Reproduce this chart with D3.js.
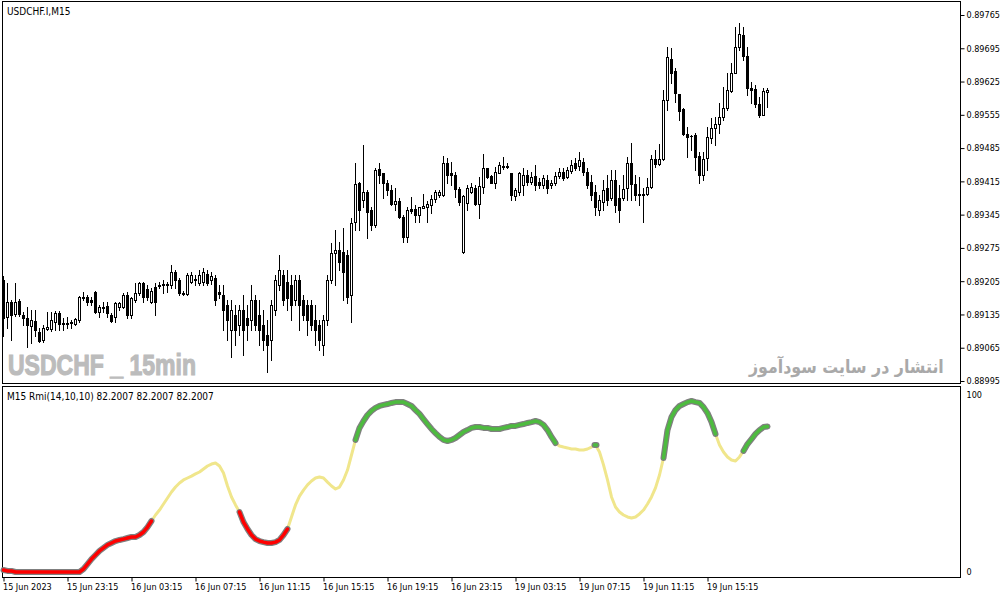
<!DOCTYPE html>
<html><head><meta charset="utf-8">
<script src="https://cdn.jsdelivr.net/npm/d3@7"></script>
<style>html,body{margin:0;padding:0;background:#fff;overflow:hidden}svg{display:block}</style>
</head><body><svg id="c" width="1006" height="598"></svg>
<script>
const symbolTitle = "USDCHF.I,M15";
const indicatorTitle = "M15 Rmi(14,10,10) 82.2007 82.2007 82.2007";
const watermarkLeft = "USDCHF _ 15min";
const watermarkRight = "انتشار در سایت سودآموز";

const priceTicks = [0.89765,0.89695,0.89625,0.89555,0.89485,0.89415,0.89345,0.89275,0.89205,0.89135,0.89065,0.88995];
const rmiTicks = [100, 0];
const timeTickBars = [0,16,32,48,64,80,96,112,128,144,160,176];
const timeTickLabels = ["15 Jun 2023","15 Jun 23:15","16 Jun 03:15","16 Jun 07:15","16 Jun 11:15","16 Jun 15:15","16 Jun 19:15","16 Jun 23:15","19 Jun 03:15","19 Jun 07:15","19 Jun 11:15","19 Jun 15:15"];

const open = [
0.89208,0.89130,0.89162,0.89136,0.89164,0.89134,0.89128,0.89111,0.89122,0.89098,
0.89082,0.89105,0.89105,0.89120,0.89138,0.89117,0.89115,0.89117,0.89115,0.89124,
0.89170,0.89172,0.89166,0.89183,0.89141,0.89151,0.89153,0.89134,0.89130,0.89151,
0.89151,0.89176,0.89134,0.89166,0.89181,0.89202,0.89189,0.89162,0.89193,0.89195,
0.89197,0.89197,0.89197,0.89225,0.89208,0.89181,0.89178,0.89204,0.89208,0.89202,
0.89204,0.89221,0.89208,0.89212,0.89183,0.89176,0.89155,0.89103,0.89134,0.89113,
0.89145,0.89128,0.89124,0.89166,0.89134,0.89113,0.89092,0.89082,0.89145,0.89197,
0.89218,0.89204,0.89197,0.89166,0.89208,0.89166,0.89155,0.89155,0.89124,0.89113,
0.89071,0.89124,0.89208,0.89265,0.89271,0.89267,0.89260,0.89176,0.89330,0.89412,
0.89376,0.89393,0.89355,0.89324,0.89441,0.89433,0.89412,0.89397,0.89368,0.89374,
0.89340,0.89298,0.89357,0.89357,0.89345,0.89359,0.89361,0.89366,0.89378,0.89387,
0.89387,0.89454,0.89433,0.89429,0.89399,0.89267,0.89370,0.89393,0.89402,0.89368,
0.89404,0.89444,0.89427,0.89412,0.89433,0.89446,0.89446,0.89433,0.89385,0.89393,
0.89408,0.89429,0.89414,0.89427,0.89414,0.89408,0.89418,0.89408,0.89412,0.89427,
0.89435,0.89425,0.89437,0.89454,0.89448,0.89456,0.89435,0.89414,0.89393,0.89355,
0.89372,0.89402,0.89380,0.89418,0.89380,0.89380,0.89402,0.89454,0.89410,0.89389,
0.89387,0.89389,0.89404,0.89462,0.89452,0.89462,0.89587,0.89673,0.89648,0.89599,
0.89568,0.89515,0.89511,0.89513,0.89469,0.89429,0.89465,0.89507,0.89528,0.89536,
0.89551,0.89570,0.89606,0.89643,0.89698,0.89723,0.89679,0.89612,0.89610,0.89578,
0.89555,0.89603];
const high = [
0.89216,0.89202,0.89166,0.89202,0.89168,0.89141,0.89151,0.89145,0.89145,0.89107,
0.89113,0.89141,0.89141,0.89143,0.89143,0.89128,0.89130,0.89124,0.89128,0.89174,
0.89183,0.89176,0.89172,0.89185,0.89155,0.89162,0.89162,0.89138,0.89162,0.89162,
0.89181,0.89183,0.89172,0.89202,0.89204,0.89204,0.89197,0.89191,0.89202,0.89204,
0.89208,0.89204,0.89239,0.89229,0.89212,0.89185,0.89223,0.89225,0.89218,0.89229,
0.89233,0.89229,0.89225,0.89218,0.89197,0.89197,0.89166,0.89166,0.89155,0.89155,
0.89176,0.89155,0.89197,0.89176,0.89166,0.89145,0.89124,0.89166,0.89218,0.89260,
0.89229,0.89229,0.89218,0.89218,0.89218,0.89176,0.89166,0.89166,0.89155,0.89124,
0.89134,0.89218,0.89286,0.89313,0.89288,0.89317,0.89271,0.89338,0.89454,0.89414,
0.89492,0.89397,0.89361,0.89444,0.89454,0.89433,0.89418,0.89408,0.89402,0.89380,
0.89345,0.89361,0.89383,0.89366,0.89361,0.89389,0.89374,0.89387,0.89397,0.89397,
0.89469,0.89465,0.89456,0.89435,0.89404,0.89387,0.89408,0.89412,0.89408,0.89425,
0.89473,0.89444,0.89429,0.89446,0.89456,0.89467,0.89454,0.89433,0.89402,0.89435,
0.89444,0.89439,0.89435,0.89450,0.89423,0.89429,0.89429,0.89418,0.89435,0.89444,
0.89444,0.89446,0.89460,0.89465,0.89477,0.89465,0.89444,0.89429,0.89408,0.89387,
0.89418,0.89429,0.89439,0.89439,0.89408,0.89429,0.89467,0.89496,0.89429,0.89425,
0.89402,0.89423,0.89471,0.89481,0.89494,0.89608,0.89698,0.89696,0.89654,0.89599,
0.89570,0.89530,0.89513,0.89517,0.89477,0.89477,0.89530,0.89549,0.89551,0.89580,
0.89614,0.89643,0.89664,0.89740,0.89749,0.89740,0.89698,0.89624,0.89618,0.89593,
0.89612,0.89612];
const low = [
0.89090,0.89107,0.89082,0.89132,0.89132,0.89113,0.89067,0.89075,0.89090,0.89077,
0.89077,0.89103,0.89101,0.89103,0.89103,0.89103,0.89107,0.89107,0.89113,0.89120,
0.89166,0.89155,0.89155,0.89138,0.89130,0.89141,0.89130,0.89120,0.89120,0.89145,
0.89149,0.89128,0.89128,0.89162,0.89176,0.89162,0.89166,0.89159,0.89134,0.89191,
0.89181,0.89183,0.89191,0.89191,0.89176,0.89176,0.89176,0.89202,0.89197,0.89197,
0.89197,0.89197,0.89199,0.89155,0.89170,0.89103,0.89082,0.89046,0.89071,0.89092,
0.89050,0.89082,0.89103,0.89103,0.89071,0.89061,0.89014,0.89040,0.89134,0.89187,
0.89155,0.89145,0.89124,0.89155,0.89103,0.89124,0.89092,0.89103,0.89071,0.89061,
0.89050,0.89113,0.89202,0.89197,0.89229,0.89166,0.89159,0.89120,0.89313,0.89313,
0.89361,0.89296,0.89313,0.89319,0.89412,0.89380,0.89387,0.89366,0.89355,0.89338,
0.89288,0.89288,0.89349,0.89330,0.89330,0.89359,0.89330,0.89349,0.89372,0.89383,
0.89385,0.89412,0.89408,0.89383,0.89366,0.89265,0.89355,0.89391,0.89366,0.89338,
0.89391,0.89423,0.89412,0.89402,0.89433,0.89441,0.89444,0.89376,0.89376,0.89387,
0.89387,0.89408,0.89410,0.89397,0.89402,0.89402,0.89391,0.89402,0.89408,0.89423,
0.89418,0.89423,0.89433,0.89439,0.89439,0.89429,0.89402,0.89376,0.89345,0.89345,
0.89355,0.89366,0.89376,0.89351,0.89330,0.89376,0.89376,0.89376,0.89376,0.89366,
0.89330,0.89387,0.89402,0.89446,0.89450,0.89460,0.89566,0.89622,0.89582,0.89545,
0.89513,0.89467,0.89481,0.89439,0.89412,0.89418,0.89439,0.89496,0.89492,0.89517,
0.89545,0.89566,0.89603,0.89643,0.89692,0.89671,0.89597,0.89580,0.89572,0.89551,
0.89555,0.89572];
const close = [
0.89128,0.89162,0.89134,0.89162,0.89136,0.89128,0.89113,0.89124,0.89103,0.89080,
0.89107,0.89109,0.89124,0.89138,0.89115,0.89115,0.89117,0.89120,0.89126,0.89172,
0.89172,0.89162,0.89162,0.89141,0.89151,0.89149,0.89138,0.89122,0.89159,0.89159,
0.89176,0.89134,0.89170,0.89181,0.89202,0.89172,0.89172,0.89185,0.89162,0.89197,
0.89199,0.89199,0.89225,0.89208,0.89181,0.89178,0.89218,0.89218,0.89210,0.89218,
0.89225,0.89202,0.89216,0.89166,0.89178,0.89145,0.89124,0.89145,0.89103,0.89145,
0.89103,0.89113,0.89166,0.89113,0.89103,0.89082,0.89071,0.89155,0.89208,0.89229,
0.89166,0.89170,0.89155,0.89208,0.89155,0.89134,0.89124,0.89113,0.89103,0.89082,
0.89124,0.89208,0.89265,0.89271,0.89246,0.89225,0.89172,0.89328,0.89410,0.89355,
0.89393,0.89351,0.89324,0.89439,0.89429,0.89412,0.89397,0.89368,0.89374,0.89340,
0.89298,0.89355,0.89353,0.89345,0.89361,0.89364,0.89368,0.89378,0.89393,0.89393,
0.89454,0.89429,0.89429,0.89399,0.89372,0.89385,0.89402,0.89404,0.89368,0.89406,
0.89444,0.89425,0.89412,0.89435,0.89450,0.89448,0.89448,0.89387,0.89397,0.89433,
0.89429,0.89414,0.89425,0.89408,0.89408,0.89423,0.89402,0.89412,0.89427,0.89435,
0.89423,0.89439,0.89450,0.89444,0.89460,0.89435,0.89408,0.89387,0.89361,0.89376,
0.89397,0.89376,0.89418,0.89366,0.89355,0.89399,0.89454,0.89410,0.89387,0.89387,
0.89389,0.89404,0.89462,0.89452,0.89462,0.89587,0.89677,0.89643,0.89601,0.89563,
0.89515,0.89509,0.89511,0.89467,0.89429,0.89462,0.89509,0.89528,0.89536,0.89551,
0.89570,0.89608,0.89643,0.89698,0.89725,0.89679,0.89612,0.89608,0.89578,0.89555,
0.89606,0.89608];

const rmi = [
1.1,0.6,0.6,0,0,0,0,0,0,0,
0,0,0,0,0,0,0,0,0,0,
1.7,4.5,7.3,9.6,11.9,13.6,15.3,16.4,17.5,18.1,
18.6,19.2,19.8,19.8,20.9,22.6,25.4,28.8,32.2,35.0,
38.4,41.8,45.2,48.0,50.3,52.0,53.1,54.2,55.4,56.5,
58.2,59.9,61.0,61.6,59.9,55.9,48.6,42.4,37.9,33.9,
28.2,24.3,20.9,18.6,17.5,16.9,16.4,16.4,16.9,18.1,
20.9,24.3,31.1,37.9,42.9,46.3,49.2,51.4,53.1,53.7,
53.1,50.8,48.6,46.9,48.0,52.0,57.6,66.1,74.6,81.4,
85.3,88.7,91.0,92.7,93.8,94.4,94.9,95.5,96.0,96.0,
96.0,94.9,93.8,91.5,89.3,86.4,83.6,80.8,78.5,76.3,
74.6,74.0,74.6,75.7,77.4,79.1,80.2,81.4,81.9,81.9,
81.4,81.4,80.8,80.8,80.8,81.4,81.9,82.5,82.5,83.1,
83.6,84.2,84.7,85.3,84.7,83.1,80.2,76.3,72.9,71.2,
70.6,70.1,69.5,69.5,68.9,68.9,69.5,70.6,71.8,67.8,
60.5,52.0,42.4,36.7,33.9,32.2,31.1,30.5,31.1,32.8,
35.0,38.4,42.4,47.5,54.8,64.4,80.2,87.6,91.5,93.8,
94.9,96.0,96.6,96.0,95.5,93.2,89.8,84.7,78.0,71.8,
67.8,65.0,63.3,62.7,65.0,68.4,72.3,75.1,78.0,80.2,
81.9,82.2];
// colour zones of the Rmi line: [state, firstBar, lastBar]
const rmiZones = [["down",0,37],["mid",38,58],["down",59,71],["mid",72,87],["up",88,138],["mid",139,147],["up",148,148],["mid",149,164],["up",165,178],["mid",179,184],["up",185,191]];

const svg = d3.select("#c");
const FONT = "'DejaVu Sans Condensed','Liberation Sans',sans-serif";
const n = close.length;
const x = d3.scaleLinear().domain([0, n - 1]).range([3.5, 3.5 + 4 * (n - 1)]);
const yP = d3.scaleLinear().domain([0.88995, 0.89765]).range([381, 15]);
const yR = d3.scaleLinear().domain([0, 100]).range([572, 395]);

svg.append("rect").attr("width",1006).attr("height",598).attr("fill","#fff");

// watermarks
svg.append("text").attr("x",8).attr("y",375).text(watermarkLeft)
  .attr("font-family","'Liberation Sans Narrow','Liberation Sans',sans-serif").attr("font-weight","bold")
  .attr("font-size",30).attr("fill","#bcbcbc").attr("stroke","#bcbcbc").attr("stroke-width",1.2)
  .attr("textLength",188).attr("lengthAdjust","spacingAndGlyphs");
const wmR = svg.append("text").attr("x",944).attr("y",373).text(watermarkRight)
  .attr("font-family","'DejaVu Sans',sans-serif").attr("font-weight","bold")
  .attr("font-size",18).attr("fill","#a9a9a9");
{
  const bb = wmR.node().getBBox();
  const targetW = 196, targetRight = 944;
  const k = targetW / bb.width;
  wmR.attr("x", 0).attr("y", 0)
     .attr("transform", `translate(${targetRight - targetW},373) scale(${k},1) translate(${-(bb.x - 944)},0)`);
  const bb2 = wmR.node().getBBox();
  wmR.attr("transform", `translate(${targetRight - targetW},373) scale(${k},1) translate(${-bb2.x},0)`);
}

// panes
svg.append("rect").attr("x",2.5).attr("y",1.5).attr("width",958).attr("height",382).attr("fill","none").attr("stroke","#000");
svg.append("rect").attr("x",2.5).attr("y",386.5).attr("width",958).attr("height",191).attr("fill","none").attr("stroke","#000");

// candles
const gC = svg.append("g");
const idx = d3.range(n);
gC.selectAll("rect.w").data(idx).join("rect").attr("class","w")
  .attr("x", i => x(i) - 0.5).attr("width", 1)
  .attr("y", i => Math.round(yP(high[i])))
  .attr("height", i => Math.round(yP(low[i])) - Math.round(yP(high[i])) + 1)
  .attr("fill", "#000");
gC.selectAll("rect.b").data(idx).join("rect").attr("class","b")
  .each(function(i){
    const yo = Math.round(yP(open[i])), yc = Math.round(yP(close[i]));
    const s = d3.select(this);
    if (close[i] < open[i]) {
      s.attr("x", x(i) - 1.5).attr("width", 3).attr("y", yo).attr("height", Math.max(1, yc - yo + 1)).attr("fill", "#000");
    } else if (yc === yo) {
      s.attr("x", x(i) - 1.5).attr("width", 3).attr("y", yo).attr("height", 1).attr("fill", "#000");
    } else {
      s.attr("x", x(i) - 1).attr("width", 2).attr("y", yc + 0.5).attr("height", yo - yc).attr("fill", "#fff").attr("stroke", "#000");
    }
  });

// price axis
const axP = svg.append("g").attr("transform","translate(960.5,0)")
  .call(d3.axisRight(yP).tickValues(priceTicks).tickFormat(d3.format(".5f")).tickSize(4).tickPadding(2));
axP.select(".domain").remove();
axP.selectAll("line").attr("stroke","#000");
axP.selectAll("text").attr("font-family",FONT).attr("font-size",9).attr("fill","#000");

// rmi axis
const axR = svg.append("g").attr("transform","translate(960.5,0)")
  .call(d3.axisRight(yR).tickValues(rmiTicks).tickFormat(d3.format("d")).tickSize(0).tickPadding(6));
axR.select(".domain").remove();
axR.selectAll("text").attr("font-family",FONT).attr("font-size",9).attr("fill","#000");

// time axis
const axT = svg.append("g").attr("transform","translate(0,577.5)")
  .call(d3.axisBottom(x).tickValues(timeTickBars).tickFormat((d,i) => timeTickLabels[i]).tickSize(4).tickPadding(2));
axT.select(".domain").remove();
axT.selectAll("line").attr("stroke","#000");
axT.selectAll("text").attr("font-family",FONT).attr("font-size",9).attr("fill","#000")
  .attr("text-anchor","start").attr("dx",-1);

// rmi line
const line = d3.line().x(i => x(i)).y(i => yR(rmi[i]));
svg.append("path").attr("d", line(idx)).attr("fill","none").attr("stroke","#f0e68c").attr("stroke-width",3).attr("stroke-linejoin","round");
const zoneColor = {down:"#ff0000", up:"#4dbb3f"};
rmiZones.filter(z => z[0] !== "mid").forEach(z => {
  const seg = d3.range(z[1], z[2] + 1);
  const d = seg.length > 1 ? line(seg) : `M${x(z[1])-1},${yR(rmi[z[1]])}L${x(z[1])+1},${yR(rmi[z[1]])}`;
  svg.append("path").attr("d", d).attr("fill","none").attr("stroke","#7f7f7f").attr("stroke-width",6).attr("stroke-linecap","round").attr("stroke-linejoin","round");
  svg.append("path").attr("d", d).attr("fill","none").attr("stroke",zoneColor[z[0]]).attr("stroke-width",3.5).attr("stroke-linecap","round").attr("stroke-linejoin","round");
});

// titles
svg.append("text").attr("x",7).attr("y",15).text(symbolTitle).attr("font-family",FONT).attr("font-size",10).attr("fill","#000");
svg.append("text").attr("x",7).attr("y",400).text(indicatorTitle).attr("font-family",FONT).attr("font-size",10).attr("fill","#000");
</script></body></html>
